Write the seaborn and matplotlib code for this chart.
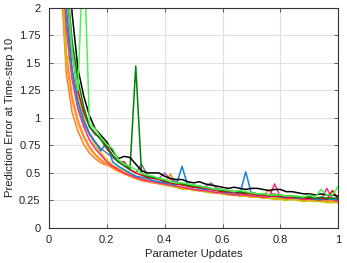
import numpy as np
import pandas as pd
import matplotlib
matplotlib.use("Agg")
import matplotlib.pyplot as plt
import seaborn as sns

x_start, x_step, n_pts = 0.04, 0.02, 49

orange_low = [2.3, 1.4, 1.05, 0.88, 0.76, 0.68, 0.63, 0.59, 0.57, 0.55, 0.52, 0.49, 0.47, 0.45, 0.43, 0.42, 0.41, 0.4, 0.39, 0.38, 0.37, 0.36, 0.35, 0.35, 0.34, 0.33, 0.32, 0.32, 0.31, 0.3, 0.3, 0.29, 0.29, 0.28, 0.28, 0.28, 0.27, 0.27, 0.27, 0.26, 0.26, 0.26, 0.25, 0.25, 0.25, 0.25, 0.24, 0.24, 0.24]
orange_light = [2.5, 1.5, 1.15, 0.95, 0.82, 0.72, 0.66, 0.61, 0.58, 0.54, 0.51, 0.5, 0.47, 0.45, 0.44, 0.43, 0.41, 0.41, 0.39, 0.38, 0.38, 0.36, 0.36, 0.35, 0.35, 0.33, 0.33, 0.32, 0.31, 0.32, 0.3, 0.3, 0.29, 0.3, 0.28, 0.28, 0.29, 0.27, 0.27, 0.28, 0.26, 0.26, 0.27, 0.25, 0.25, 0.26, 0.25, 0.24, 0.25]
orange = [2.6, 1.6, 1.2, 0.98, 0.84, 0.74, 0.67, 0.62, 0.58, 0.55, 0.52, 0.5, 0.47, 0.45, 0.44, 0.43, 0.42, 0.41, 0.4, 0.49, 0.38, 0.37, 0.36, 0.35, 0.34, 0.34, 0.33, 0.32, 0.31, 0.31, 0.3, 0.3, 0.29, 0.29, 0.28, 0.28, 0.35, 0.28, 0.27, 0.27, 0.27, 0.26, 0.26, 0.26, 0.25, 0.25, 0.25, 0.25, 0.25]
yellow = [2.6, 1.5, 1.62, 1.2, 1.0, 0.85, 0.75, 0.68, 0.62, 0.57, 0.54, 0.52, 0.49, 0.47, 0.45, 0.44, 0.42, 0.41, 0.4, 0.38, 0.37, 0.35, 0.36, 0.34, 0.34, 0.33, 0.32, 0.32, 0.31, 0.3, 0.3, 0.29, 0.29, 0.28, 0.28, 0.27, 0.27, 0.26, 0.26, 0.25, 0.26, 0.25, 0.24, 0.25, 0.24, 0.24, 0.23, 0.23, 0.23]
pink = [2.9, 1.8, 1.35, 1.08, 0.92, 0.8, 0.72, 0.66, 0.6, 0.56, 0.53, 0.5, 0.48, 0.46, 0.44, 0.43, 0.42, 0.41, 0.4, 0.39, 0.38, 0.37, 0.36, 0.35, 0.34, 0.34, 0.33, 0.32, 0.32, 0.31, 0.3, 0.3, 0.3, 0.29, 0.29, 0.28, 0.28, 0.4, 0.28, 0.27, 0.27, 0.27, 0.26, 0.26, 0.26, 0.25, 0.36, 0.26, 0.24]
purple = [3.0, 1.9, 1.4, 1.1, 0.95, 0.85, 0.78, 0.72, 0.68, 0.64, 0.6, 0.56, 0.53, 0.5, 0.58, 0.48, 0.46, 0.45, 0.5, 0.44, 0.42, 0.4, 0.4, 0.39, 0.38, 0.37, 0.41, 0.36, 0.35, 0.34, 0.33, 0.34, 0.32, 0.32, 0.31, 0.31, 0.3, 0.31, 0.29, 0.29, 0.29, 0.28, 0.28, 0.29, 0.27, 0.27, 0.27, 0.27, 0.26]
blue = [3.2, 2.0, 1.45, 1.15, 0.98, 0.86, 0.78, 0.7, 0.78, 0.6, 0.56, 0.53, 0.5, 0.47, 0.46, 0.45, 0.43, 0.42, 0.41, 0.4, 0.39, 0.56, 0.38, 0.37, 0.36, 0.35, 0.35, 0.34, 0.33, 0.32, 0.32, 0.31, 0.51, 0.31, 0.3, 0.3, 0.29, 0.29, 0.28, 0.28, 0.28, 0.27, 0.27, 0.27, 0.26, 0.26, 0.26, 0.26, 0.26]
red = [3.4, 2.2, 1.6, 1.25, 1.05, 0.92, 0.85, 0.82, 0.74, 0.66, 0.6, 0.6, 0.53, 0.5, 0.48, 0.46, 0.45, 0.44, 0.42, 0.41, 0.4, 0.39, 0.38, 0.37, 0.37, 0.36, 0.35, 0.34, 0.33, 0.33, 0.32, 0.32, 0.31, 0.31, 0.3, 0.3, 0.29, 0.29, 0.29, 0.28, 0.28, 0.28, 0.27, 0.27, 0.27, 0.27, 0.26, 0.34, 0.26]
dark_green = [3.6, 2.3, 1.7, 1.35, 1.1, 0.92, 0.86, 0.8, 0.72, 0.66, 0.6, 0.57, 0.53, 1.47, 0.5, 0.47, 0.46, 0.45, 0.43, 0.42, 0.41, 0.4, 0.39, 0.38, 0.38, 0.37, 0.36, 0.35, 0.34, 0.34, 0.33, 0.33, 0.32, 0.32, 0.31, 0.31, 0.3, 0.3, 0.3, 0.29, 0.29, 0.28, 0.28, 0.28, 0.27, 0.28, 0.27, 0.27, 0.27]
black = [4.2, 2.8, 1.95, 1.45, 1.2, 1.02, 0.9, 0.84, 0.78, 0.7, 0.63, 0.65, 0.64, 0.58, 0.52, 0.5, 0.5, 0.5, 0.47, 0.45, 0.44, 0.44, 0.42, 0.41, 0.42, 0.4, 0.39, 0.38, 0.37, 0.36, 0.37, 0.36, 0.35, 0.36, 0.36, 0.35, 0.34, 0.35, 0.35, 0.33, 0.33, 0.32, 0.31, 0.31, 0.30, 0.31, 0.30, 0.30, 0.29]
light_green = [3.5, 2.3, 1.6, 1.25, 2.6, 0.95, 0.9, 0.82, 0.76, 0.72, 0.62, 0.58, 0.56, 0.53, 0.5, 0.48, 0.47, 0.45, 0.44, 0.42, 0.41, 0.41, 0.4, 0.39, 0.38, 0.37, 0.36, 0.35, 0.35, 0.34, 0.33, 0.34, 0.33, 0.32, 0.31, 0.31, 0.3, 0.3, 0.3, 0.29, 0.29, 0.29, 0.28, 0.3, 0.28, 0.35, 0.3, 0.3, 0.38]

series = {
    "orange_low": orange_low, "orange_light": orange_light, "orange": orange,
    "yellow": yellow, "pink": pink, "purple": purple, "blue": blue,
    "red": red, "dark_green": dark_green, "black": black, "light_green": light_green,
}
colors = {
    "orange_low": "#ff7f2a", "orange_light": "#ffa040", "orange": "#ff8c1a",
    "yellow": "#c8c800", "pink": "#ff2a80", "purple": "#9a6aa8", "blue": "#1a80d8",
    "red": "#d01010", "dark_green": "#008000", "black": "#000000", "light_green": "#50f050",
}

xs = np.round(x_start + x_step * np.arange(n_pts), 2)
frames = [pd.DataFrame({"x": xs, "y": v, "run": k}) for k, v in series.items()]
df = pd.concat(frames, ignore_index=True)

sns.set_theme(style="whitegrid")
plt.rcParams['font.family'] = ['Liberation Sans', 'DejaVu Sans']

fig = plt.figure(figsize=(3.47, 2.63), dpi=100)
ax = fig.add_axes([0.141, 0.133, 0.834, 0.838])
sns.lineplot(data=df, x="x", y="y", hue="run", palette=colors, linewidth=1.1,
             legend=False, ax=ax)

ax.set_xlim(0, 1)
ax.set_ylim(0, 2)
ax.set_xticks([0, 0.2, 0.4, 0.6, 0.8, 1.0])
ax.set_xticklabels(["0", "0.2", "0.4", "0.6", "0.8", "1"])
ax.set_yticks([0, 0.25, 0.5, 0.75, 1, 1.25, 1.5, 1.75, 2])
ax.set_yticklabels(["0", "0.25", "0.5", "0.75", "1", "1.25", "1.5", "1.75", "2"])
ax.set_xlabel("Parameter Updates", fontsize=8.1, labelpad=3, color="#222222")
ax.set_ylabel("Prediction Error at Time-step 10", fontsize=8.1, labelpad=3, color="#222222")
ax.tick_params(axis="y", labelsize=8, direction="in", length=3, width=0.6,
               color="#444444", pad=6, left=True, right=True, labelcolor="#222222")
ax.tick_params(axis="x", labelsize=8, direction="in", length=3, width=0.6,
               color="#444444", pad=5, bottom=True, top=True, labelcolor="#222222")
ax.grid(True, color="#e0e0e0", linewidth=0.8)
for s in ax.spines.values():
    s.set_color("#333333")
    s.set_linewidth(0.8)
    s.set_visible(True)

fig.savefig("out.png", dpi=100, facecolor="white")
